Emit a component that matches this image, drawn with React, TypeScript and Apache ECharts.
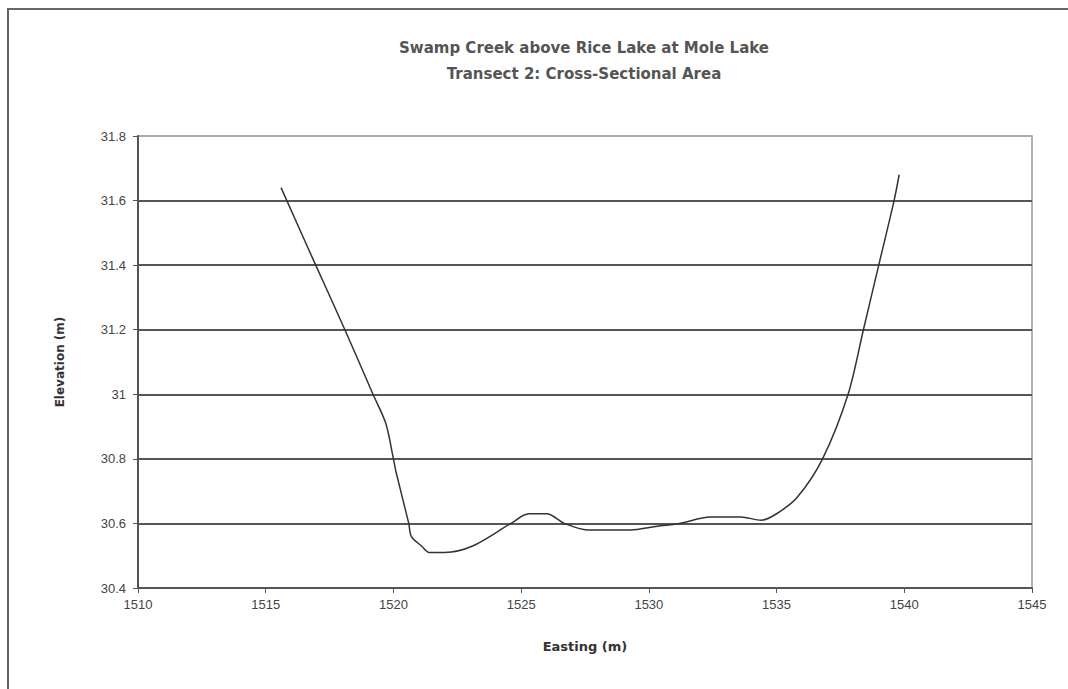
import React, { useEffect, useRef } from "react";
import * as echarts from "echarts";

const titleLines = ["Swamp Creek above Rice Lake at Mole Lake", "Transect 2: Cross-Sectional Area"];
const xAxisName = "Easting (m)";
const yAxisName = "Elevation (m)";

const easting = [
  1515.6, 1516.9, 1518.1, 1519.2, 1519.7, 1520.0, 1520.1, 1520.6, 1520.7, 1521.1,
  1521.4, 1522.0, 1523.1, 1524.6, 1525.3, 1526.0, 1526.7, 1527.6, 1529.3, 1530.2,
  1531.2, 1532.4, 1533.6, 1534.4, 1535.0, 1535.8, 1536.8, 1537.8, 1538.4, 1539.0,
  1539.6, 1539.8,
];
const elevation = [
  31.64, 31.41, 31.2, 31.0, 30.91, 30.8, 30.76, 30.6, 30.56, 30.53,
  30.51, 30.51, 30.53, 30.6, 30.63, 30.63, 30.6, 30.58, 30.58, 30.59,
  30.6, 30.62, 30.62, 30.61, 30.63, 30.68, 30.8, 31.0, 31.2, 31.4,
  31.6, 31.68,
];

const FONT = "'DejaVu Sans', Arial, sans-serif";

export default function App() {
  const ref = useRef<HTMLDivElement>(null);
  useEffect(() => {
    document.body.style.margin = "0";
    const chart = echarts.init(ref.current!, null, { renderer: "svg" });
    const data = easting.map((x, i) => [x, elevation[i]]);
    chart.setOption({
      animation: false,
      backgroundColor: "#ffffff",
      title: {
        text: titleLines.join("\n"),
        left: 579,
        textAlign: "center",
        top: 30,
        textStyle: {
          fontFamily: FONT,
          fontSize: 15,
          fontWeight: "bold",
          color: "#555",
          lineHeight: 26,
        },
      },
      graphic: [
        {
          type: "rect",
          shape: { x: 8, y: 9, width: 1200, height: 800 },
          style: { fill: "none", stroke: "#666", lineWidth: 2 },
          silent: true,
        },
      ],
      grid: {
        left: 138,
        top: 136,
        right: 36,
        bottom: 101,
        show: true,
        borderColor: "#999",
        borderWidth: 1.5,
      },
      xAxis: {
        type: "value",
        min: 1510,
        max: 1545,
        interval: 5,
        name: xAxisName,
        nameLocation: "middle",
        nameGap: 52,
        nameTextStyle: {
          fontFamily: FONT,
          fontSize: 13,
          fontWeight: "bold",
          color: "#333",
        },
        axisLine: { show: true, lineStyle: { color: "#555", width: 2 } },
        axisTick: { show: true, inside: false, length: 5, lineStyle: { color: "#555" } },
        axisLabel: {
          fontFamily: "Arial, 'Liberation Sans', sans-serif",
          fontSize: 13,
          color: "#444",
          margin: 10,
          formatter: (v: number) => String(v),
        },
        splitLine: { show: false },
      },
      yAxis: {
        type: "value",
        min: 30.4,
        max: 31.8,
        interval: 0.2,
        name: yAxisName,
        nameLocation: "middle",
        nameGap: 72,
        nameTextStyle: {
          fontFamily: FONT,
          fontSize: 12,
          fontWeight: "bold",
          color: "#333",
        },
        axisLine: { show: true, lineStyle: { color: "#555", width: 2 } },
        axisTick: { show: true, inside: false, length: 5, lineStyle: { color: "#555" } },
        axisLabel: {
          fontFamily: "Arial, 'Liberation Sans', sans-serif",
          fontSize: 13,
          color: "#444",
          margin: 12,
          formatter: (v: number) => String(Math.round(v * 10) / 10),
        },
        splitLine: {
          show: true,
          lineStyle: {
            color: ["#555", "#555", "#555", "#555", "#555", "#555", "#555", "#aaa"],
            width: 2,
          },
        },
      },
      series: [
        {
          type: "line",
          data,
          smooth: 0.3,
          symbol: "none",
          lineStyle: { color: "#333", width: 1.5 },
        },
      ],
    });
    return () => chart.dispose();
  }, []);
  return <div ref={ref} style={{ width: 1068, height: 689 }} />;
}
